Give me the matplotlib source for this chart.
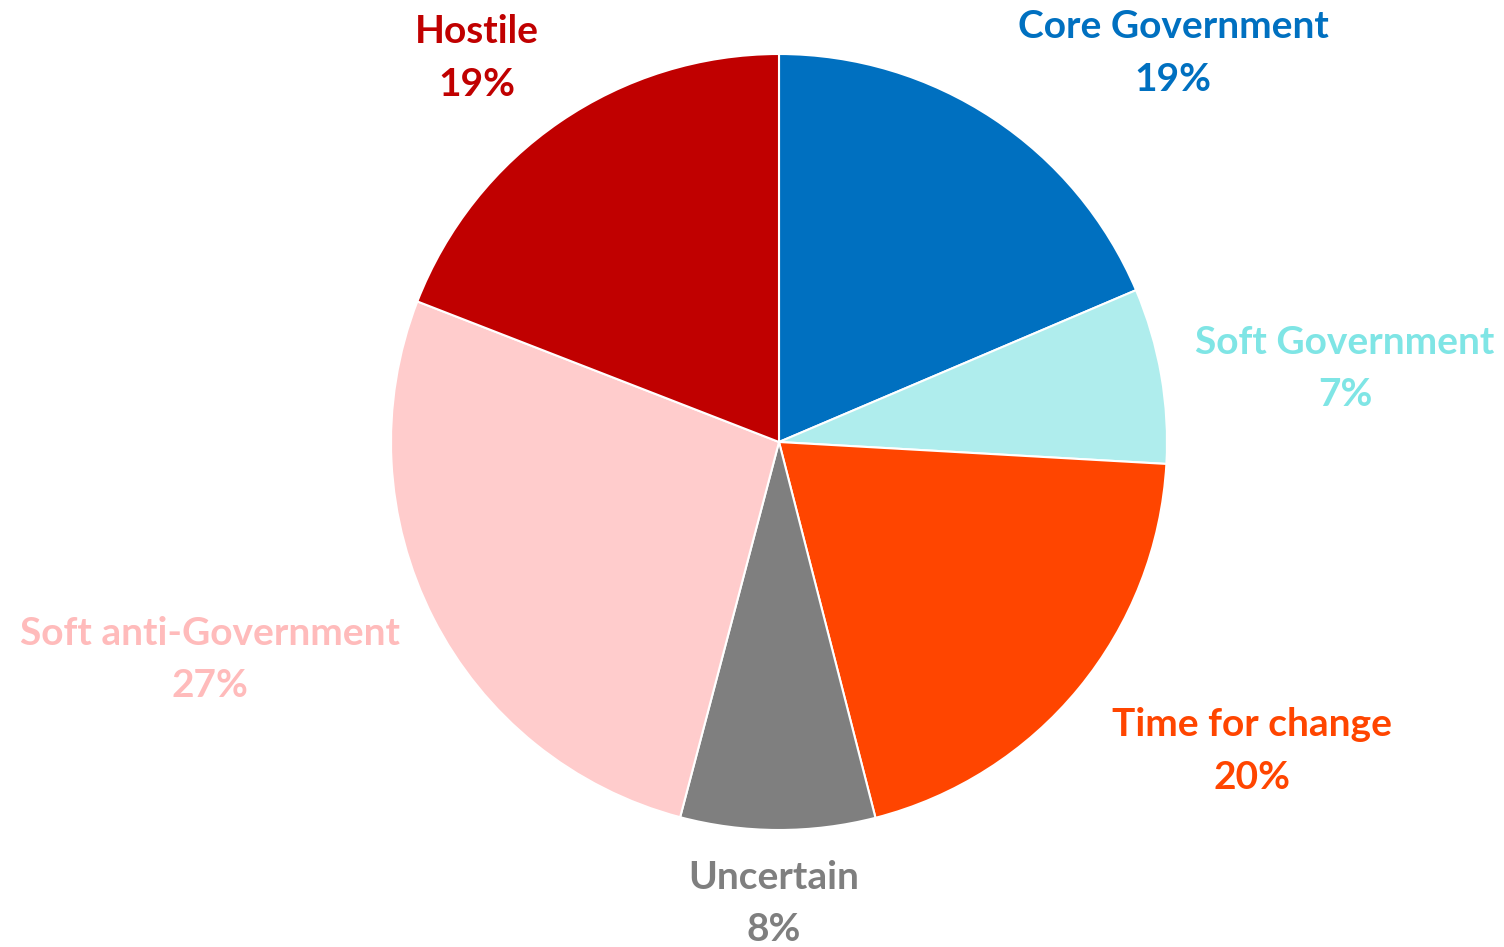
import matplotlib
matplotlib.use("Agg")
import matplotlib.pyplot as plt

# segments, clockwise from 12 o'clock
labels = ["Core Government", "Soft Government", "Time for change",
          "Uncertain", "Soft anti-Government", "Hostile"]
shares = [18.6, 7.3, 20.1, 8.1, 26.8, 19.1]

fill_colours = ["#0070C0", "#AFEDED", "#FF4500", "#7F7F7F", "#FFCCCC", "#C00000"]
text_colours = ["#0070C0", "#7FE5E5", "#FF4500", "#7F7F7F", "#FFBBBB", "#C00000"]

# label block centres in data units (pie radius = 1), placed by hand like the original
label_xy = [(1.016, 1.003), (1.459, 0.189), (1.219, -0.796),
            (-0.013, -1.190), (-1.467, -0.561), (-0.778, 0.990)]

fig = plt.figure(figsize=(15.04, 9.47), dpi=100)
ax = fig.add_axes([0, 0, 1, 1])

wedges, _ = ax.pie(shares, colors=fill_colours, startangle=90, counterclock=False,
                   radius=1.0, wedgeprops=dict(edgecolor="white", linewidth=1.5))

for name, val, col, (x, y) in zip(labels, shares, text_colours, label_xy):
    ax.text(x, y, f"{name}\n{val:.0f}%", ha="center", va="center", color=col,
            fontsize=28, fontweight="bold", family="Lato", linespacing=1.6)

ax.set_xlim(-779 / 388, (1504 - 779) / 388)
ax.set_ylim(-(947 - 442) / 388, 442 / 388)
ax.set_aspect("auto")
ax.axis("off")

plt.savefig("out.png", dpi=100)
